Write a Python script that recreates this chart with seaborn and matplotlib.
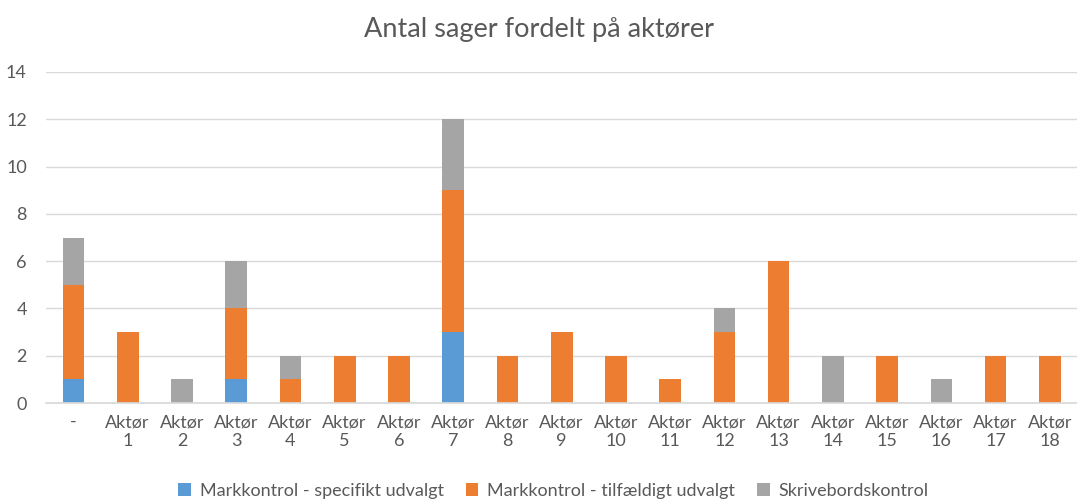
import matplotlib
matplotlib.use("Agg")
import matplotlib.pyplot as plt
import seaborn as sns
import pandas as pd
import numpy as np

categories = ["-"] + [f"Aktør\n{i}" for i in range(1, 19)]
specifikt = [1, 0, 0, 1, 0, 0, 0, 3, 0, 0, 0, 0, 0, 0, 0, 0, 0, 0, 0]
tilfaeldigt = [4, 3, 0, 3, 1, 2, 2, 6, 2, 3, 2, 1, 3, 6, 0, 2, 0, 2, 2]
skrivebord = [2, 0, 1, 2, 1, 0, 0, 3, 0, 0, 0, 0, 1, 0, 2, 0, 1, 0, 0]
series_names = ["Markkontrol - specifikt udvalgt", "Markkontrol - tilfældigt udvalgt", "Skrivebordskontrol"]
colors = ["#5B9BD5", "#ED7D31", "#A5A5A5"]

sns.set_theme(style="white")
plt.rcParams['font.family'] = ['Lato', 'DejaVu Sans']

fig = plt.figure(figsize=(10.77, 5.0), dpi=100)
ax = fig.add_axes([0.043, 0.194, 0.957, 0.662])

df = pd.DataFrame({"cat": categories, "s1": specifikt, "s2": tilfaeldigt, "s3": skrivebord})
bottom = np.zeros(len(categories))
for col, name, c in zip(["s1", "s2", "s3"], series_names, colors):
    sns.barplot(data=df, x="cat", y=col, color=c, bottom=bottom, width=0.4,
                ax=ax, label=name, saturation=1, order=categories, linewidth=0)
    bottom = bottom + df[col].values

ax.set_ylim(0, 14)
ax.set_xlim(-0.5, len(categories) - 0.5)
ax.set_yticks(range(0, 15, 2))
ax.yaxis.grid(True, color="#D9D9D9", linewidth=1)
ax.set_axisbelow(True)
for s in ["top", "right", "left"]:
    ax.spines[s].set_visible(False)
ax.spines["bottom"].set_color("#D9D9D9")
ax.set_xlabel("")
ax.set_ylabel("")
ax.tick_params(axis="both", length=0, labelsize=13, colors="#595959", pad=8)
ax.tick_params(axis="y", pad=14)

fig.suptitle("Antal sager fordelt på aktører", y=0.965, fontsize=19.5, color="#595959")

handles, labels = ax.get_legend_handles_labels()
if ax.legend_:
    ax.legend_.remove()
fig.legend(handles, labels, loc="lower center", bbox_to_anchor=(0.514, -0.03), ncol=3,
           frameon=False, fontsize=13, labelcolor="#595959", handlelength=0.7,
           handleheight=0.7, columnspacing=1.2, handletextpad=0.5)

fig.savefig("out.png", dpi=100)
